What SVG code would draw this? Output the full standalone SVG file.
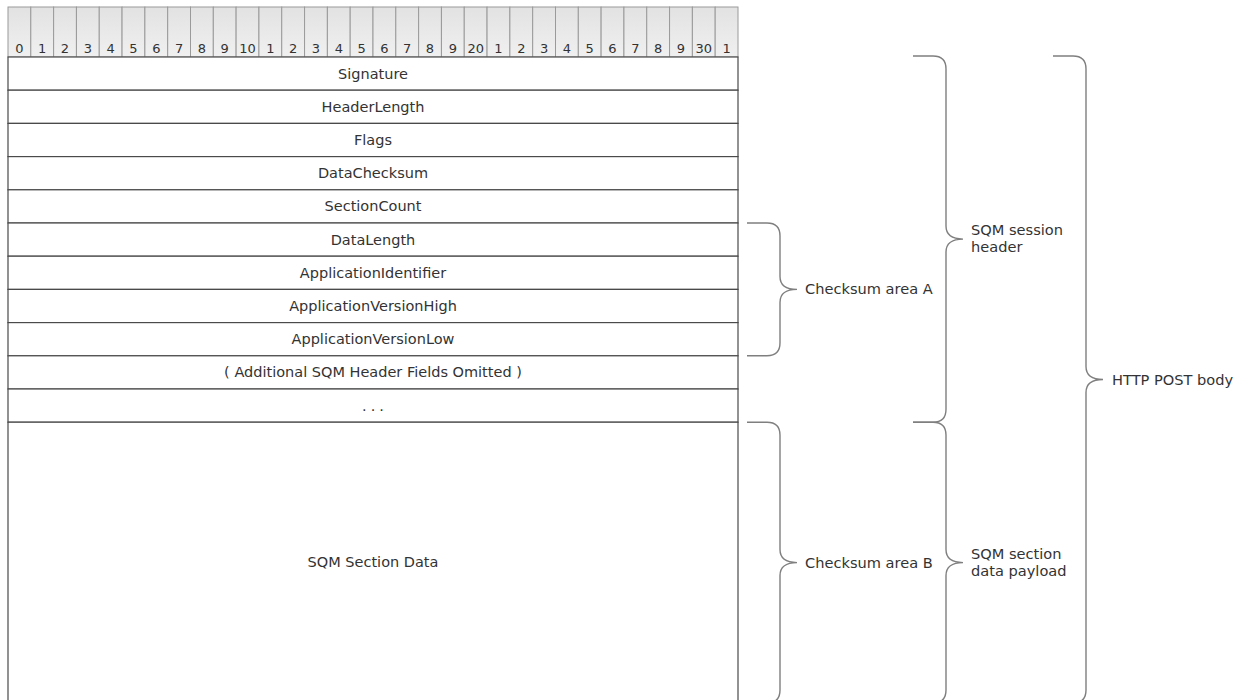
<svg xmlns="http://www.w3.org/2000/svg" width="1251" height="700" viewBox="0 0 1251 700">
<defs>
<linearGradient id="cellg" x1="0" y1="0" x2="0" y2="1">
<stop offset="0" stop-color="#e2e2e2"/>
<stop offset="1" stop-color="#f0f0f0"/>
</linearGradient>
<style>
.cell{fill:url(#cellg);stroke:#9a9a9a;stroke-width:1}
.num{font-family:"DejaVu Sans",Verdana,sans-serif;font-size:13px;fill:#333;text-anchor:middle}
.row{fill:#fff;stroke:#4a4a4a;stroke-width:1.2}
.lbl{font-family:"DejaVu Sans",Verdana,sans-serif;font-size:14.5px;fill:#333;text-anchor:middle}
.blbl{font-family:"DejaVu Sans",Verdana,sans-serif;font-size:14.6px;fill:#333}
.brace{fill:none;stroke:#7f7f7f;stroke-width:1.4}
</style>
</defs>
<rect width="1251" height="700" fill="#fff"/>
<g id="ruler">
<rect class="cell" x="8" y="7" width="22.81" height="50"/>
<rect class="cell" x="30.81" y="7" width="22.81" height="50"/>
<rect class="cell" x="53.62" y="7" width="22.81" height="50"/>
<rect class="cell" x="76.44" y="7" width="22.81" height="50"/>
<rect class="cell" x="99.25" y="7" width="22.81" height="50"/>
<rect class="cell" x="122.06" y="7" width="22.81" height="50"/>
<rect class="cell" x="144.88" y="7" width="22.81" height="50"/>
<rect class="cell" x="167.69" y="7" width="22.81" height="50"/>
<rect class="cell" x="190.5" y="7" width="22.81" height="50"/>
<rect class="cell" x="213.31" y="7" width="22.81" height="50"/>
<rect class="cell" x="236.12" y="7" width="22.81" height="50"/>
<rect class="cell" x="258.94" y="7" width="22.81" height="50"/>
<rect class="cell" x="281.75" y="7" width="22.81" height="50"/>
<rect class="cell" x="304.56" y="7" width="22.81" height="50"/>
<rect class="cell" x="327.38" y="7" width="22.81" height="50"/>
<rect class="cell" x="350.19" y="7" width="22.81" height="50"/>
<rect class="cell" x="373" y="7" width="22.81" height="50"/>
<rect class="cell" x="395.81" y="7" width="22.81" height="50"/>
<rect class="cell" x="418.62" y="7" width="22.81" height="50"/>
<rect class="cell" x="441.44" y="7" width="22.81" height="50"/>
<rect class="cell" x="464.25" y="7" width="22.81" height="50"/>
<rect class="cell" x="487.06" y="7" width="22.81" height="50"/>
<rect class="cell" x="509.88" y="7" width="22.81" height="50"/>
<rect class="cell" x="532.69" y="7" width="22.81" height="50"/>
<rect class="cell" x="555.5" y="7" width="22.81" height="50"/>
<rect class="cell" x="578.31" y="7" width="22.81" height="50"/>
<rect class="cell" x="601.12" y="7" width="22.81" height="50"/>
<rect class="cell" x="623.94" y="7" width="22.81" height="50"/>
<rect class="cell" x="646.75" y="7" width="22.81" height="50"/>
<rect class="cell" x="669.56" y="7" width="22.81" height="50"/>
<rect class="cell" x="692.38" y="7" width="22.81" height="50"/>
<rect class="cell" x="715.19" y="7" width="22.81" height="50"/>
<text class="num" x="19.4" y="52.5">0</text>
<text class="num" x="42.2" y="52.5">1</text>
<text class="num" x="65" y="52.5">2</text>
<text class="num" x="87.8" y="52.5">3</text>
<text class="num" x="110.7" y="52.5">4</text>
<text class="num" x="133.5" y="52.5">5</text>
<text class="num" x="156.3" y="52.5">6</text>
<text class="num" x="179.1" y="52.5">7</text>
<text class="num" x="201.9" y="52.5">8</text>
<text class="num" x="224.7" y="52.5">9</text>
<text class="num" x="247.5" y="52.5">10</text>
<text class="num" x="270.3" y="52.5">1</text>
<text class="num" x="293.2" y="52.5">2</text>
<text class="num" x="316" y="52.5">3</text>
<text class="num" x="338.8" y="52.5">4</text>
<text class="num" x="361.6" y="52.5">5</text>
<text class="num" x="384.4" y="52.5">6</text>
<text class="num" x="407.2" y="52.5">7</text>
<text class="num" x="430" y="52.5">8</text>
<text class="num" x="452.8" y="52.5">9</text>
<text class="num" x="475.7" y="52.5">20</text>
<text class="num" x="498.5" y="52.5">1</text>
<text class="num" x="521.3" y="52.5">2</text>
<text class="num" x="544.1" y="52.5">3</text>
<text class="num" x="566.9" y="52.5">4</text>
<text class="num" x="589.7" y="52.5">5</text>
<text class="num" x="612.5" y="52.5">6</text>
<text class="num" x="635.3" y="52.5">7</text>
<text class="num" x="658.2" y="52.5">8</text>
<text class="num" x="681" y="52.5">9</text>
<text class="num" x="703.8" y="52.5">30</text>
<text class="num" x="726.6" y="52.5">1</text>
</g>
<g id="signature"><rect class="row" x="8" y="57" width="730" height="33.2"/><text class="lbl" x="373" y="78.6">Signature</text></g>
<g id="headerlength"><rect class="row" x="8" y="90.2" width="730" height="33.2"/><text class="lbl" x="373" y="111.8">HeaderLength</text></g>
<g id="flags"><rect class="row" x="8" y="123.4" width="730" height="33.2"/><text class="lbl" x="373" y="145">Flags</text></g>
<g id="datachecksum"><rect class="row" x="8" y="156.6" width="730" height="33.2"/><text class="lbl" x="373" y="178.2">DataChecksum</text></g>
<g id="sectioncount"><rect class="row" x="8" y="189.8" width="730" height="33.2"/><text class="lbl" x="373" y="211.4">SectionCount</text></g>
<g id="datalength"><rect class="row" x="8" y="223" width="730" height="33.2"/><text class="lbl" x="373" y="244.6">DataLength</text></g>
<g id="appid"><rect class="row" x="8" y="256.2" width="730" height="33.2"/><text class="lbl" x="373" y="277.8">ApplicationIdentifier</text></g>
<g id="appverhigh"><rect class="row" x="8" y="289.4" width="730" height="33.2"/><text class="lbl" x="373" y="311">ApplicationVersionHigh</text></g>
<g id="appverlow"><rect class="row" x="8" y="322.6" width="730" height="33.2"/><text class="lbl" x="373" y="344.2">ApplicationVersionLow</text></g>
<g id="additional"><rect class="row" x="8" y="355.8" width="730" height="33.2"/><text class="lbl" x="373" y="377.4">( Additional SQM Header Fields Omitted )</text></g>
<g id="ellipsis"><rect class="row" x="8" y="389" width="730" height="33.2"/><text class="lbl" x="375" y="410.6" style="letter-spacing:4px">...</text></g>
<g id="sectiondata"><rect class="row" x="8" y="422.2" width="730" height="290"/><text class="lbl" x="373" y="567">SQM Section Data</text></g>
<g id="connectors">
<path id="brace-a" class="brace" d="M747,223 H767 Q780,223 780,236 V276.4 Q780,289.4 797,289.4 Q780,289.4 780,302.4 V342.8 Q780,355.8 767,355.8 H747"/>
<path id="brace-b" class="brace" d="M747,422.2 H767 Q780,422.2 780,435.2 V549.6 Q780,562.6 797,562.6 Q780,562.6 780,575.6 V690 Q780,703 767,703 H747"/>
<path id="brace-session" class="brace" d="M913,56 H933 Q946,56 946,69 V226.1 Q946,239.1 963,239.1 Q946,239.1 946,252.1 V409.2 Q946,422.2 933,422.2 H913"/>
<path id="brace-payload" class="brace" d="M913,422.2 H933 Q946,422.2 946,435.2 V549.6 Q946,562.6 963,562.6 Q946,562.6 946,575.6 V690 Q946,703 933,703 H913"/>
<path id="brace-http" class="brace" d="M1053,56 H1073 Q1086,56 1086,69 V366.5 Q1086,379.5 1103,379.5 Q1086,379.5 1086,392.5 V690 Q1086,703 1073,703 H1053"/>
</g>
<g id="label-a"><text class="blbl" x="805" y="294">Checksum area A</text></g>
<g id="label-b"><text class="blbl" x="805" y="568">Checksum area B</text></g>
<g id="label-session"><text class="blbl" x="971" y="235">SQM session</text><text class="blbl" x="971" y="252">header</text></g>
<g id="label-payload"><text class="blbl" x="971" y="559">SQM section</text><text class="blbl" x="971" y="576">data payload</text></g>
<g id="label-http"><text class="blbl" x="1112" y="385">HTTP POST body</text></g>
</svg>
